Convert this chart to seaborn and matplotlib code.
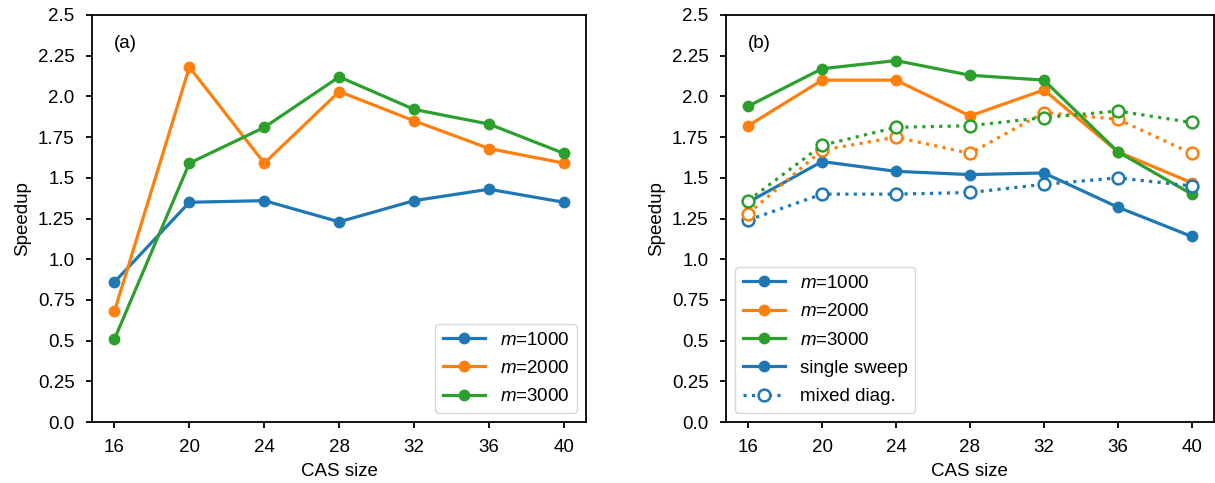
import pandas as pd
import matplotlib.pyplot as plt
import seaborn as sns
from matplotlib.lines import Line2D

plt.rcParams['font.family'] = ['Liberation Sans', 'DejaVu Sans']
plt.rcParams['mathtext.fontset'] = 'custom'
plt.rcParams['mathtext.rm'] = 'Liberation Sans'
plt.rcParams['mathtext.it'] = 'Liberation Sans:italic'
plt.rcParams['font.size'] = 13.5
plt.rcParams['axes.linewidth'] = 1.3
plt.rcParams['xtick.major.size'] = 4.5
plt.rcParams['ytick.major.size'] = 4.5
plt.rcParams['xtick.major.width'] = 1.3
plt.rcParams['ytick.major.width'] = 1.3
plt.rcParams['xtick.major.pad'] = 7.5
plt.rcParams['ytick.major.pad'] = 8
plt.rcParams['axes.labelpad'] = 5

# CAS sizes on the x axis
cas_size = [16, 20, 24, 28, 32, 36, 40]
m_labels = ['$m$=1000', '$m$=2000', '$m$=3000']
colors = ['#1f77b4', '#ff7f0e', '#2ca02c']

# panel (a)
a_m1000 = [0.86, 1.35, 1.36, 1.23, 1.36, 1.43, 1.35]
a_m2000 = [0.68, 2.18, 1.59, 2.03, 1.85, 1.68, 1.59]
a_m3000 = [0.51, 1.59, 1.81, 2.12, 1.92, 1.83, 1.65]

# panel (b), single sweep
b_single_m1000 = [1.35, 1.60, 1.54, 1.52, 1.53, 1.32, 1.14]
b_single_m2000 = [1.82, 2.10, 2.10, 1.88, 2.04, 1.66, 1.47]
b_single_m3000 = [1.94, 2.17, 2.22, 2.13, 2.10, 1.66, 1.40]

# panel (b), mixed diag.
b_mixed_m1000 = [1.24, 1.40, 1.40, 1.41, 1.46, 1.50, 1.45]
b_mixed_m2000 = [1.28, 1.67, 1.75, 1.65, 1.90, 1.86, 1.65]
b_mixed_m3000 = [1.36, 1.70, 1.81, 1.82, 1.87, 1.91, 1.84]

yticks = [0.0, 0.25, 0.5, 0.75, 1.0, 1.25, 1.5, 1.75, 2.0, 2.25, 2.5]
ytick_labels = ['0.0', '0.25', '0.5', '0.75', '1.0', '1.25', '1.5', '1.75', '2.0', '2.25', '2.5']

fig = plt.figure(figsize=(12.15, 4.83), dpi=100)
ax1 = fig.add_axes([0.0757, 0.126, 0.407, 0.843])
ax2 = fig.add_axes([0.5975, 0.126, 0.4016, 0.843])

lw = 2.3
ms = 8.5

# (a)
for vals, lab, c in zip([a_m1000, a_m2000, a_m3000], m_labels, colors):
    sns.lineplot(x=cas_size, y=vals, ax=ax1, color=c, marker='o', markersize=ms,
                 markeredgewidth=0, linewidth=lw, label=lab)

# (b)
for vals, lab, c in zip([b_single_m1000, b_single_m2000, b_single_m3000], m_labels, colors):
    sns.lineplot(x=cas_size, y=vals, ax=ax2, color=c, marker='o', markersize=ms,
                 markeredgewidth=0, linewidth=lw, label=lab)
for vals, c in zip([b_mixed_m1000, b_mixed_m2000, b_mixed_m3000], colors):
    sns.lineplot(x=cas_size, y=vals, ax=ax2, color=c, marker='o', markersize=ms,
                 markerfacecolor='white', markeredgecolor=c, markeredgewidth=1.8,
                 linewidth=lw, linestyle=':')

for ax, tag in [(ax1, '(a)'), (ax2, '(b)')]:
    ax.set_ylim(0, 2.5)
    ax.set_xticks(cas_size)
    ax.set_yticks(yticks)
    ax.set_yticklabels(ytick_labels)
    ax.set_xlabel('CAS size')
    ax.set_ylabel('Speedup')
    ax.text(0.045, 0.92, tag, transform=ax.transAxes)

ax1.legend(loc='lower right', labelspacing=0.6, handlelength=2.25)

handles, labels = ax2.get_legend_handles_labels()
handles = handles[:3] + [
    Line2D([], [], color=colors[0], marker='o', markersize=ms, markeredgewidth=0, linewidth=lw),
    Line2D([], [], color=colors[0], marker='o', markersize=ms, markerfacecolor='white',
           markeredgewidth=1.8, linewidth=lw, linestyle=':'),
]
labels = labels[:3] + ['single sweep', 'mixed diag.']
ax2.legend(handles, labels, loc='lower left', labelspacing=0.6, handlelength=2.25)

plt.savefig('out.png', dpi=100)
